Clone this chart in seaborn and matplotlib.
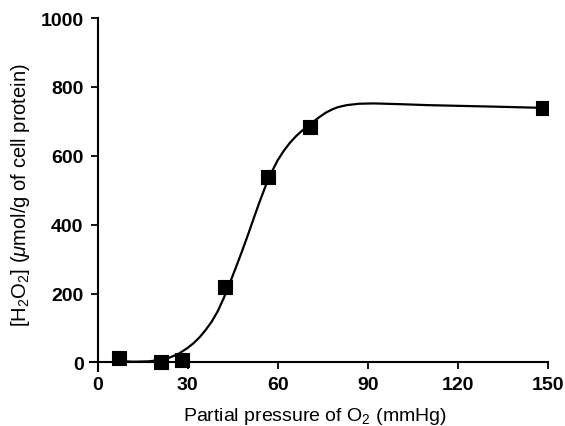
import seaborn as sns
import matplotlib
matplotlib.use("Agg")
import matplotlib.pyplot as plt
import pandas as pd

# measured points
po2 = [7, 21, 28, 42.6, 56.8, 70.8, 148.3]
h2o2 = [12, 0, 6, 218, 538, 683, 738]

# fitted curve
curve_x = [7, 12, 17, 21, 24, 27, 30, 32, 34, 36, 38, 40, 42, 44, 46, 48, 50,
           52, 54, 56, 58, 60, 62, 64, 66, 68, 70, 72, 74, 76, 78, 80, 83, 87,
           92, 100, 110, 120, 135, 148.3]
curve_y = [4, 2, 3, 7, 14, 25, 42, 56, 73, 94, 118, 148, 186, 229, 274, 320, 368,
           418, 467, 513, 553, 587, 614, 637, 656, 672, 686, 700, 713, 725, 734, 741, 747, 751,
           752, 750, 747, 745, 742, 739]

pts = pd.DataFrame({"po2": po2, "h2o2": h2o2})
fit = pd.DataFrame({"x": curve_x, "y": curve_y})

sns.set_theme(style="ticks")
plt.rcParams["font.family"] = ["Liberation Sans", "DejaVu Sans"]
plt.rcParams["mathtext.fontset"] = "custom"
plt.rcParams["mathtext.rm"] = "Liberation Sans"
plt.rcParams["mathtext.it"] = "Liberation Sans:italic"
plt.rcParams["text.color"] = "black"
plt.rcParams["axes.labelcolor"] = "black"

fig = plt.figure(figsize=(5.65, 4.27), dpi=100)
ax = fig.add_axes([0.1593, 0.1288, 0.8106, 0.8267])

sns.lineplot(data=fit, x="x", y="y", ax=ax, color="black", lw=1.6,
             sort=False, estimator=None)
sns.scatterplot(data=pts, x="po2", y="h2o2", ax=ax, marker="s", s=100,
                color="black", edgecolor="black", zorder=3)

ax.set_xlim(-2.5, 150)
ax.set_ylim(-25, 1000)
ax.spines["left"].set_position(("data", 0))
ax.spines["bottom"].set_position(("data", 0))
for side in ["top", "right"]:
    ax.spines[side].set_visible(False)
for side in ["left", "bottom"]:
    ax.spines[side].set_linewidth(1.5)
    ax.spines[side].set_color("black")

ax.set_xticks([0, 30, 60, 90, 120, 150])
ax.set_yticks([0, 200, 400, 600, 800, 1000])
ax.tick_params(direction="out", length=5, width=1.3, colors="black",
               labelsize=14, pad=5)
for lab in ax.get_xticklabels() + ax.get_yticklabels():
    lab.set_fontweight("bold")

ax.set_xlabel("Partial pressure of O$_2$ (mmHg)", fontsize=14)
ax.set_ylabel("[H$_2$O$_2$] ($\\mathit{\\mu}$mol/g of cell protein)", fontsize=14.5)
ax.xaxis.set_label_coords(0.49, -0.095)
ax.yaxis.set_label_coords(-0.127, 0.5)

fig.savefig("out.png", dpi=100)
